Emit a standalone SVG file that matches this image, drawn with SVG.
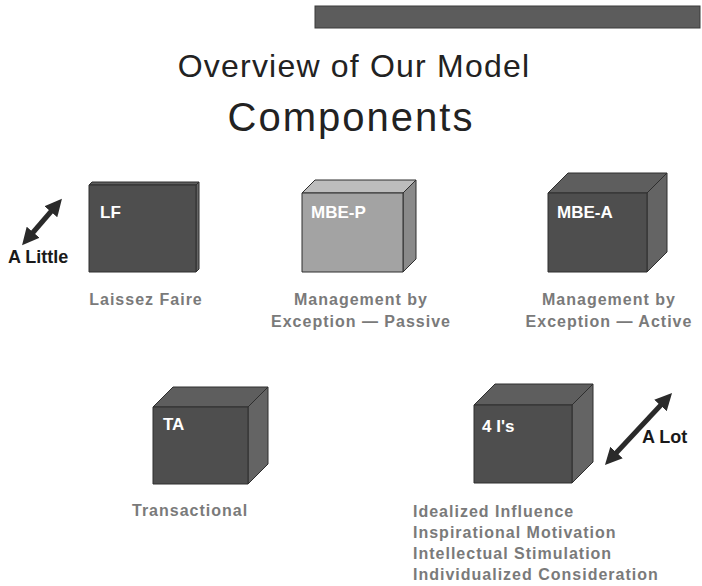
<svg xmlns="http://www.w3.org/2000/svg" width="702" height="586" viewBox="0 0 702 586">
  <style>
    .title { font-family: "Liberation Sans", Arial, sans-serif; fill: #222; }
    .lbl { font-family: "Liberation Sans", Arial, sans-serif; font-weight: bold; font-size: 17px; fill: #fff; }
    .cap { font-family: "Liberation Sans", Arial, sans-serif; font-weight: bold; font-size: 16px; fill: #7a7a7a; letter-spacing: 1px; }
    .amt { font-family: "Liberation Sans", Arial, sans-serif; font-weight: bold; font-size: 18px; fill: #1a1a1a; }
    .edge { stroke: #2e2e2e; stroke-width: 1; stroke-linejoin: round; }
    .dark-front { fill: #4e4e4e; }
    .dark-top { fill: #5e5e5e; }
    .dark-side { fill: #646464; }
    .light-front { fill: #a3a3a3; }
    .light-top { fill: #bdbdbd; }
    .light-side { fill: #8a8a8a; }
    .arrow { stroke: #2a2a2a; stroke-width: 5; fill: none; }
  </style>
  <defs>
    <marker id="head" viewBox="0 0 10 10" refX="6" refY="5" markerWidth="3.4" markerHeight="3.4" orient="auto-start-reverse">
      <path d="M0,0 L10,5 L0,10 z" fill="#2a2a2a"/>
    </marker>
  </defs>

  <rect width="702" height="586" fill="#fff"/>

  <!-- header bar -->
  <rect x="315" y="6" width="385" height="22" fill="#5c5c5c" stroke="#3a3a3a" stroke-width="1"/>

  <!-- heading -->
  <text class="title" x="354" y="77" text-anchor="middle" font-size="32" letter-spacing="1.2">Overview of Our Model</text>
  <text class="title" x="351" y="131" text-anchor="middle" font-size="40" letter-spacing="2">Components</text>

  <!-- Laissez Faire -->
  <g id="node-lf">
    <polygon class="edge dark-top" points="89,185 92,182 199,182 196,185"/>
    <polygon class="edge dark-side" points="196,185 199,182 199,269 196,272"/>
    <rect class="edge dark-front" x="89" y="185" width="107" height="87"/>
    <text class="lbl" x="100" y="218">LF</text>
    <text class="cap" x="146" y="305" text-anchor="middle">Laissez Faire</text>
  </g>

  <!-- Management by Exception, passive -->
  <g id="node-mbe-p">
    <polygon class="edge light-top" points="302,193 315,180 416,180 403,193"/>
    <polygon class="edge light-side" points="403,193 416,180 416,259 403,272"/>
    <rect class="edge light-front" x="302" y="193" width="101" height="79"/>
    <text class="lbl" x="311" y="218">MBE-P</text>
    <text class="cap" x="361" y="305" text-anchor="middle">Management by</text>
    <text class="cap" x="361" y="327" text-anchor="middle">Exception — Passive</text>
  </g>

  <!-- Management by Exception, active -->
  <g id="node-mbe-a">
    <polygon class="edge dark-top" points="548,193 568,173 667,173 647,193"/>
    <polygon class="edge dark-side" points="647,193 667,173 667,252 647,272"/>
    <rect class="edge dark-front" x="548" y="193" width="99" height="79"/>
    <text class="lbl" x="557" y="218">MBE-A</text>
    <text class="cap" x="609" y="305" text-anchor="middle">Management by</text>
    <text class="cap" x="609" y="327" text-anchor="middle">Exception — Active</text>
  </g>

  <!-- Transactional -->
  <g id="node-ta">
    <polygon class="edge dark-top" points="153,407 173,387 268,387 248,407"/>
    <polygon class="edge dark-side" points="248,407 268,387 268,464 248,484"/>
    <rect class="edge dark-front" x="153" y="407" width="95" height="77"/>
    <text class="lbl" x="163" y="430">TA</text>
    <text class="cap" x="132" y="516">Transactional</text>
  </g>

  <!-- 4 I's -->
  <g id="node-4is">
    <polygon class="edge dark-top" points="474,405 495,384 593,384 572,405"/>
    <polygon class="edge dark-side" points="572,405 593,384 593,462 572,483"/>
    <rect class="edge dark-front" x="474" y="405" width="98" height="78"/>
    <text class="lbl" x="482" y="432">4 I's</text>
    <text class="cap" x="413" y="517">Idealized Influence</text>
    <text class="cap" x="413" y="538">Inspirational Motivation</text>
    <text class="cap" x="413" y="559">Intellectual Stimulation</text>
    <text class="cap" x="413" y="580">Individualized Consideration</text>
  </g>

  <!-- scale arrows -->
  <g id="connectors">
    <line class="arrow" x1="26.5" y1="240" x2="57.5" y2="204" marker-start="url(#head)" marker-end="url(#head)"/>
    <line class="arrow" x1="609.6" y1="460" x2="667.4" y2="398" marker-start="url(#head)" marker-end="url(#head)"/>
  </g>
  <text class="amt" x="8" y="263">A Little</text>
  <text class="amt" x="642" y="443">A Lot</text>
</svg>
